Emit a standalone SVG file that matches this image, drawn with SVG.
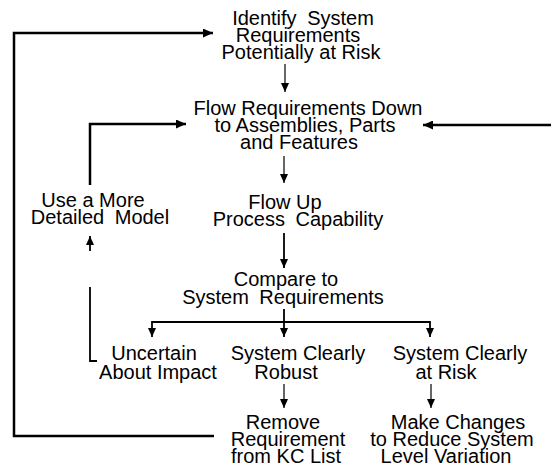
<svg xmlns="http://www.w3.org/2000/svg" width="551" height="468" viewBox="0 0 551 468">
<style>
text{font-family:"Liberation Sans",Arial,sans-serif;font-size:20px;fill:#000;text-anchor:middle}
.ws{word-spacing:5px}
.thick{fill:none;stroke:#000;stroke-width:2.5}
.mid{fill:none;stroke:#000;stroke-width:1.8}
.thin{fill:none;stroke:#000;stroke-width:1.2}
</style>
<defs>
<marker id="ah" markerUnits="userSpaceOnUse" markerWidth="10" markerHeight="9" refX="10" refY="4.5" orient="auto">
<path d="M0,0 L10,4.5 L0,9 z" fill="#000"/>
</marker>
<marker id="ahs" markerUnits="userSpaceOnUse" markerWidth="9" markerHeight="8" refX="9" refY="4" orient="auto">
<path d="M0,0 L9,4 L0,8 z" fill="#000"/>
</marker>
</defs>
<rect width="551" height="468" fill="#fff"/>
<g id="connectors">
<line class="thin" x1="285" y1="64" x2="285" y2="92" marker-end="url(#ahs)"/>
<line class="thin" x1="284" y1="156" x2="284" y2="183" marker-end="url(#ahs)"/>
<line class="mid" x1="284" y1="233" x2="284" y2="268" marker-end="url(#ahs)"/>
<path class="mid" d="M284,309 V322 M152,322 H430"/>
<line class="mid" x1="152" y1="321" x2="152" y2="337" marker-end="url(#ahs)"/>
<line class="mid" x1="284" y1="321" x2="284" y2="337" marker-end="url(#ahs)"/>
<line class="mid" x1="430" y1="321" x2="430" y2="337" marker-end="url(#ahs)"/>
<line class="thin" x1="284" y1="384" x2="284" y2="408" marker-end="url(#ahs)"/>
<line class="thin" x1="431" y1="384" x2="431" y2="408" marker-end="url(#ahs)"/>
<path class="mid" d="M97,361 H90 V287"/>
<line class="mid" x1="90" y1="251" x2="90" y2="236" marker-end="url(#ahs)"/>
<path class="thick" d="M90,185 V124 H186" marker-end="url(#ah)"/>
<path class="thick" d="M214,436 H14 V33 H213" marker-end="url(#ah)"/>
<path class="thick" d="M551,125 H423" marker-end="url(#ah)"/>
</g>
<g id="n-identify">
<text x="303" y="25" class="ws">Identify System</text>
<text x="298" y="42">Requirements</text>
<text x="301" y="59">Potentially at Risk</text>
</g>
<g id="n-flowdown">
<text x="308" y="115">Flow Requirements Down</text>
<text x="305" y="132">to Assemblies, Parts</text>
<text x="299" y="149">and Features</text>
</g>
<g id="n-detailed">
<text x="93" y="207">Use a More</text>
<text x="100" y="224" class="ws">Detailed Model</text>
</g>
<g id="n-flowup">
<text x="285" y="209">Flow Up</text>
<text x="298" y="226" class="ws">Process Capability</text>
</g>
<g id="n-compare">
<text x="286" y="286">Compare to</text>
<text x="283" y="304" class="ws">System Requirements</text>
</g>
<g id="n-uncertain">
<text x="154" y="360">Uncertain</text>
<text x="158" y="379">About Impact</text>
</g>
<g id="n-robust">
<text x="298" y="360">System Clearly</text>
<text x="286" y="379">Robust</text>
</g>
<g id="n-risk">
<text x="460" y="360">System Clearly</text>
<text x="446" y="379">at Risk</text>
</g>
<g id="n-remove">
<text x="283" y="429">Remove</text>
<text x="288" y="446">Requirement</text>
<text x="286" y="463">from KC List</text>
</g>
<g id="n-change">
<text x="458" y="429">Make Changes</text>
<text x="452" y="446">to Reduce System</text>
<text x="446" y="463">Level Variation</text>
</g>
</svg>
